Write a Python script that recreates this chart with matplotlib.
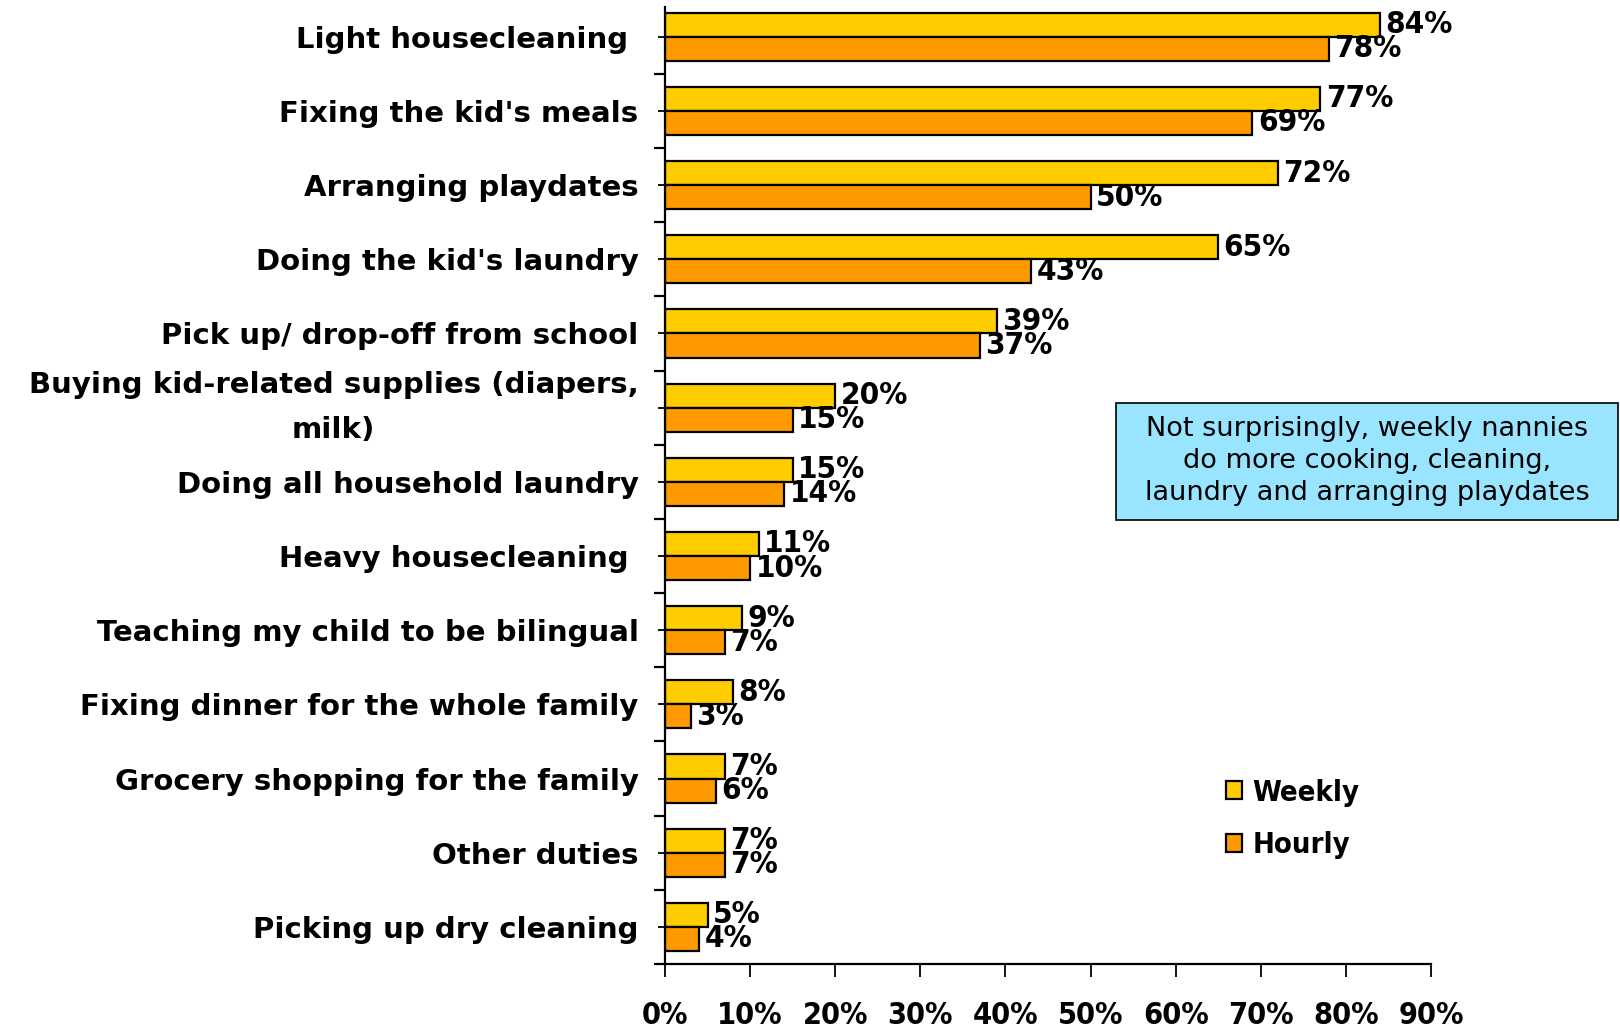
import matplotlib
matplotlib.use("Agg")
import matplotlib.pyplot as plt
from matplotlib import font_manager as fm
from matplotlib.patches import Rectangle
import numpy as np

YELLOW, ORANGE, BOXBLUE = "#FFCC00", "#FF9900", "#99E5FF"

# look for a condensed bold face for the number labels (Arial Narrow look-alike)
cond = [f for f in fm.fontManager.ttflist
        if "condensed" in str(f.stretch).lower() or "narrow" in f.name.lower()]
cond = [f for f in cond if str(f.weight) in ("bold", "700", "heavy", "800")
        or f.weight == 700]
cond = [f for f in cond if "extra" not in str(f.stretch).lower()
        and "ultra" not in str(f.stretch).lower() and "Italic" not in f.fname]


def numfont(size):
    if cond:
        return fm.FontProperties(fname=cond[0].fname, size=size)
    return fm.FontProperties(family=["Liberation Sans", "DejaVu Sans"],
                             weight="bold", size=size * 0.9)


categories = [
    "Light housecleaning ",
    "Fixing the kid's meals",
    "Arranging playdates",
    "Doing the kid's laundry",
    "Pick up/ drop-off from school",
    "Buying kid-related supplies (diapers,\nmilk)",
    "Doing all household laundry",
    "Heavy housecleaning ",
    "Teaching my child to be bilingual",
    "Fixing dinner for the whole family",
    "Grocery shopping for the family",
    "Other duties",
    "Picking up dry cleaning",
]
weekly = [84, 77, 72, 65, 39, 20, 15, 11, 9, 8, 7, 7, 5]
hourly = [78, 69, 50, 43, 37, 15, 14, 10, 7, 3, 6, 7, 4]
xticks = [0, 10, 20, 30, 40, 50, 60, 70, 80, 90]

fig = plt.figure(figsize=(16.2, 10.34), dpi=100)
ax = fig.add_axes([0.4105, 0.0677, 0.8833 - 0.4105, 0.9932 - 0.0677])

y = np.arange(len(categories))
h = 0.325
bw = ax.barh(y - h / 2, weekly, height=h, color=YELLOW, edgecolor="black",
             linewidth=1.6, label="Weekly")
bh = ax.barh(y + h / 2, hourly, height=h, color=ORANGE, edgecolor="black",
             linewidth=1.6, label="Hourly")

for bars, vals in ((bw, weekly), (bh, hourly)):
    for b, v in zip(bars, vals):
        ax.annotate(f"{v}%", (b.get_width(), b.get_y() + b.get_height() / 2),
                    xytext=(4, 0), textcoords="offset points", va="center",
                    ha="left", fontproperties=numfont(22.5))

ax.set_xlim(0, 90)
ax.set_ylim(12.5, -0.4)
ax.set_xticks(xticks)
ax.set_xticklabels([f"{t}%" for t in xticks], fontproperties=numfont(22))
ax.set_yticks(y)
ax.set_yticklabels(categories, fontsize=21, fontweight="bold",
                   family="DejaVu Sans")
for lbl in ax.get_yticklabels():
    lbl.set_multialignment("center")
    lbl.set_linespacing(1.75)
    if "\n" in lbl.get_text():
        lbl.set_verticalalignment("center")
ax.set_yticks(np.arange(len(categories)) + 0.5, minor=True)
ax.tick_params(axis="y", which="major", length=5, width=1.3, pad=14)
ax.tick_params(axis="y", which="minor", length=8, width=1.6)
ax.tick_params(axis="x", length=9, width=1.3, pad=18)
for s in ("top", "right"):
    ax.spines[s].set_visible(False)
for s in ("left", "bottom"):
    ax.spines[s].set_linewidth(1.6)

ax.legend(loc="upper left", bbox_to_anchor=(0.757, 0.247),
          bbox_transform=fig.transFigure, frameon=False, borderpad=0,
          borderaxespad=0, handlelength=0.55, handleheight=0.55,
          handletextpad=0.35, labelspacing=0.85, prop=numfont(21))

fig.patches.append(Rectangle((0.689, 0.497), 0.310, 0.113,
                             transform=fig.transFigure, facecolor=BOXBLUE,
                             edgecolor="black", linewidth=1.2))
fig.text(0.844, 0.5537,
         "Not surprisingly, weekly nannies\ndo more cooking, cleaning,\n"
         "laundry and arranging playdates",
         ha="center", va="center", fontsize=19.5, family="DejaVu Sans",
         linespacing=1.3)

fig.savefig("out.png", dpi=100)
